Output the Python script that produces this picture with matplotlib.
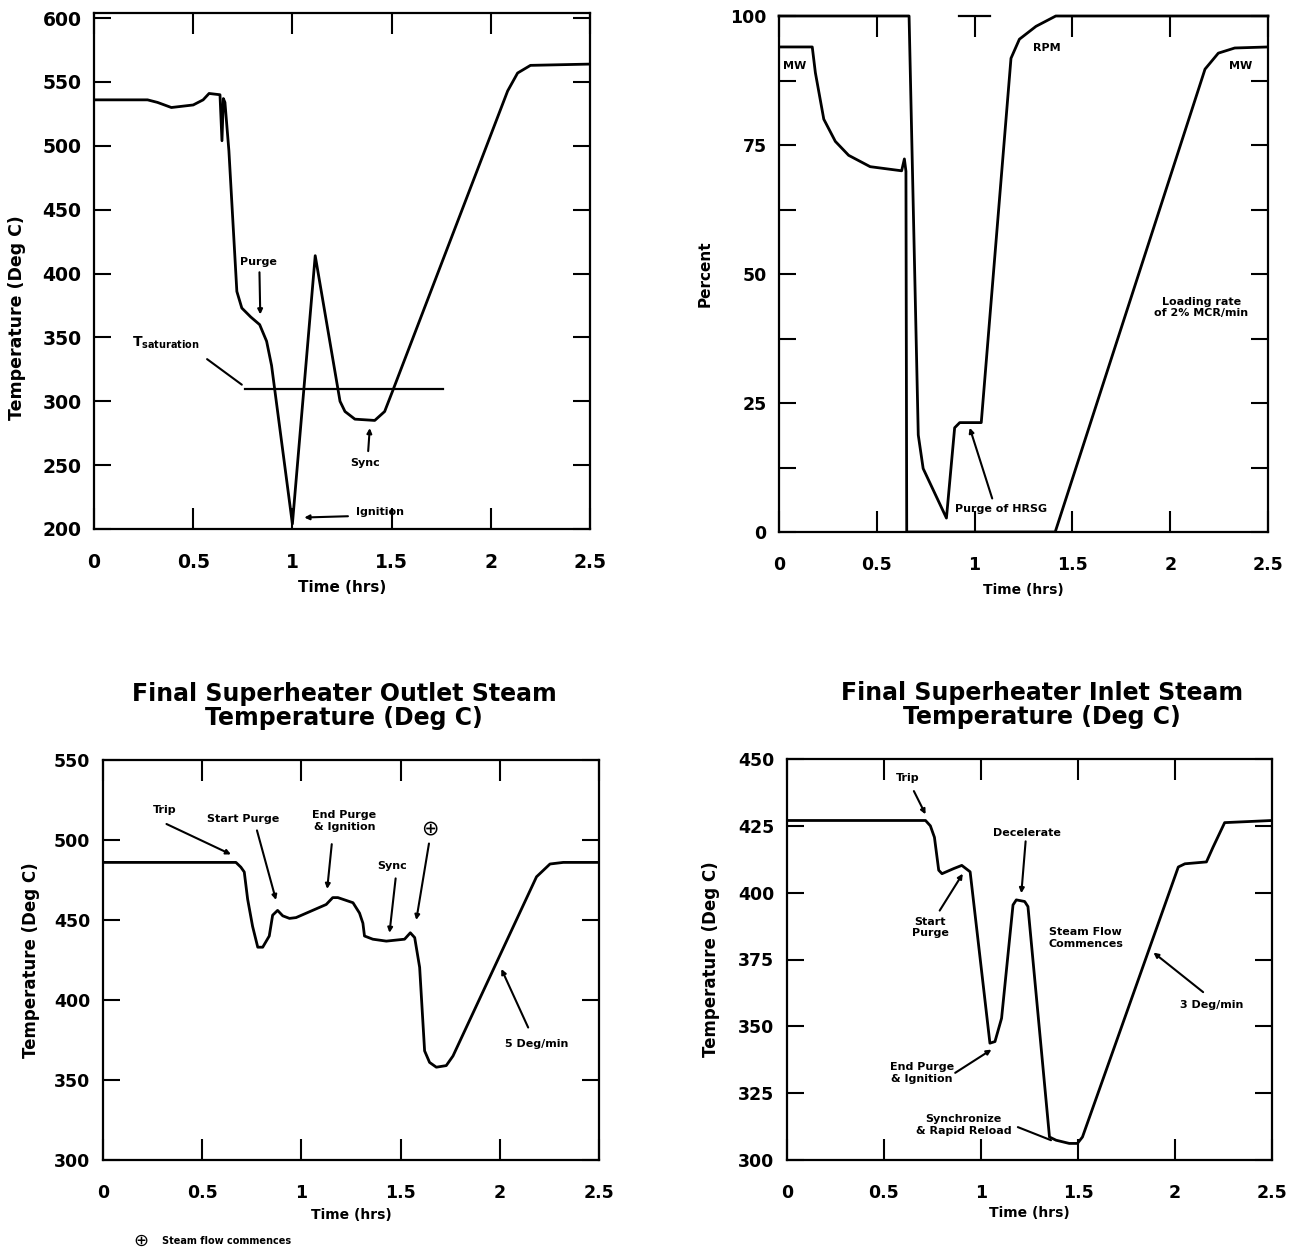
import matplotlib
matplotlib.use('Agg')
import matplotlib.pyplot as plt
from matplotlib.ticker import FixedLocator

W, H = 1298, 1253

# ---------------- data ----------------
# Top-left: temperature during trip / restart
tl_time = [0.00, 0.27, 0.32, 0.39, 0.50, 0.55, 0.58, 0.635, 0.645, 0.652, 0.66, 0.68,
           0.72, 0.745, 0.79, 0.835, 0.87, 0.895, 1.00, 1.115, 1.24, 1.265, 1.315,
           1.415, 1.465, 1.505, 2.085, 2.135, 2.20, 2.50]
tl_temp = [536, 536, 534, 530, 532, 536, 541, 540, 504, 537, 534, 496,
           386, 373, 366, 360, 347, 328, 204, 414, 300, 292, 286,
           285, 292, 308, 543, 557, 563, 564]
tl_sat_time = [0.76, 1.76]
tl_sat_temp = [310, 310]

# Top-right: MW and RPM (percent)
tr_mw_time = [0.00, 0.17, 0.186, 0.229, 0.288, 0.356, 0.466, 0.627, 0.641, 0.649,
              0.653, 1.412, 2.178, 2.246, 2.33, 2.50]
tr_mw_pct = [94, 94, 89, 80, 75.7, 73, 70.8, 70, 72.3, 69.9,
             0, 0, 89.7, 92.8, 93.8, 94]
tr_rpm_time = [0.00, 0.665, 0.712, 0.737, 0.856, 0.898, 0.924, 1.034, 1.186, 1.229,
               1.314, 1.415, 2.50]
tr_rpm_pct = [100, 100, 18.8, 12.3, 2.7, 20.2, 21.2, 21.2, 91.8, 95.5,
              98, 100, 100]

# Bottom-left: final superheater outlet steam temperature
bl_time = [0.00, 0.67, 0.695, 0.712, 0.729, 0.754, 0.78, 0.805, 0.838, 0.855, 0.88,
           0.906, 0.94, 0.973, 1.125, 1.158, 1.184, 1.26, 1.293, 1.31, 1.318, 1.36,
           1.428, 1.52, 1.549, 1.571, 1.596, 1.621, 1.646, 1.68, 1.73, 1.764,
           2.185, 2.253, 2.32, 2.50]
bl_temp = [486, 486, 483, 480, 463, 446, 433, 433, 440, 453, 456,
           452.6, 451, 451.5, 459.7, 464, 464, 460.8, 454.3, 448, 440, 438,
           436.8, 438, 442, 439, 420.4, 368.2, 361, 358, 359, 365,
           477, 485, 486, 486]

# Bottom-right: final superheater inlet steam temperature
br_time = [0.00, 0.714, 0.739, 0.76, 0.782, 0.799, 0.859, 0.901, 0.944, 1.046, 1.072,
           1.106, 1.165, 1.182, 1.225, 1.242, 1.353, 1.387, 1.455, 1.497, 1.523,
           2.017, 2.051, 2.162, 2.196, 2.256, 2.50]
br_temp = [427, 427, 425, 420.7, 408.4, 407.1, 409, 410.2, 407.8, 343.7, 344.3,
           353, 395.4, 397.3, 396.7, 394.8, 308.6, 307.4, 306.2, 306.2, 308.6,
           409.6, 410.8, 411.5, 417, 426.2, 427]

x_ticks = [0, 0.5, 1, 1.5, 2, 2.5]
x_ticklabels = ['0', '0.5', '1', '1.5', '2', '2.5']
tl_yticks = [200, 250, 300, 350, 400, 450, 500, 550, 600]
tr_yticks = [0, 25, 50, 75, 100]
tr_yminor = [12.5, 37.5, 62.5, 87.5]
bl_yticks = [300, 350, 400, 450, 500, 550]
br_yticks = [300, 325, 350, 375, 400, 425, 450]

# ---------------- style ----------------
plt.rcParams['font.family'] = ['DejaVu Sans']
LW = 2.0
NOTEFS = 8

fig = plt.figure(figsize=(W / 100, H / 100), dpi=100)


def px_axes(left, right, top, bottom):
    return fig.add_axes([left / W, 1 - bottom / H, (right - left) / W, (bottom - top) / H])


def style(ax, ylim, yticks, ylab, xlab_off, ylab_pos, tickfs=12.5, labfs=11, xlabfs=10):
    ax.set_xlim(0, 2.5)
    ax.set_ylim(*ylim)
    ax.set_xticks(x_ticks)
    ax.set_xticklabels(x_ticklabels, fontsize=tickfs, fontweight='bold')
    ax.set_yticks(yticks)
    ax.set_yticklabels([str(v) for v in yticks], fontsize=tickfs, fontweight='bold')
    ax.tick_params(axis='x', which='both', direction='in', top=True, bottom=True,
                   length=15, width=1.5, pad=17)
    ax.tick_params(axis='y', which='both', direction='in', left=True, right=True,
                   length=12, width=1.5, pad=9)
    for sp in ax.spines.values():
        sp.set_linewidth(1.6)
    ax.set_xlabel('Time (hrs)', fontsize=xlabfs, fontweight='bold')
    ax.set_ylabel(ylab, fontsize=labfs, fontweight='bold')
    ax.xaxis.set_label_coords(0.5, xlab_off)
    ax.yaxis.set_label_coords(*ylab_pos)


def arrow(ax, start, end, head=True):
    ax.annotate('', xy=end, xytext=start,
                arrowprops=dict(arrowstyle='-|>' if head else '-', color='black', lw=1.5,
                                mutation_scale=7, shrinkA=0, shrinkB=0))


def note(ax, txt, pos, ha='center', fs=NOTEFS):
    ax.text(pos[0], pos[1], txt, fontsize=fs, fontweight='bold', ha=ha, va='center',
            linespacing=1.2)


# ---------------- top-left ----------------
ax1 = px_axes(94, 590, 13, 529)
ax1.plot(tl_time, tl_temp, color='black', lw=LW, solid_joinstyle='round')
ax1.plot(tl_sat_time, tl_sat_temp, color='black', lw=1.6)
style(ax1, (200, 604), tl_yticks, 'Temperature (Deg C)', -0.099, (-0.137, 0.41),
      tickfs=13.5, labfs=12.5, xlabfs=11)
ax1.text(0.19, 346, r'$\mathbf{T}_{\mathbf{saturation}}$', fontsize=10, ha='left', va='center')
arrow(ax1, (0.57, 333), (0.745, 313), head=False)
note(ax1, 'Purge', (0.83, 409))
arrow(ax1, (0.834, 401), (0.838, 368))
note(ax1, 'Sync', (1.365, 252))
arrow(ax1, (1.382, 261), (1.39, 279))
note(ax1, 'Ignition', (1.44, 213))
arrow(ax1, (1.28, 210), (1.06, 209))

# ---------------- top-right ----------------
ax2 = px_axes(779, 1268, 16, 532)
ax2.plot(tr_mw_time, tr_mw_pct, color='black', lw=LW, solid_joinstyle='round')
ax2.plot(tr_rpm_time, tr_rpm_pct, color='black', lw=LW, solid_joinstyle='round', clip_on=False)
style(ax2, (0, 100), tr_yticks, 'Percent', -0.099, (-0.135, 0.5), labfs=11)
ax2.yaxis.set_minor_locator(FixedLocator(tr_yminor))
ax2.spines['top'].set_bounds(0.92, 1.08)
note(ax2, 'MW', (0.08, 90.4))
note(ax2, 'RPM', (1.37, 93.8))
note(ax2, 'MW', (2.36, 90.4))
note(ax2, 'Loading rate\nof 2% MCR/min', (2.16, 43.5))
note(ax2, 'Purge of HRSG', (0.9, 4.5), ha='left')
arrow(ax2, (1.09, 6.5), (0.975, 20.2))

# ---------------- bottom-left ----------------
ax3 = px_axes(103, 599, 760, 1160)
ax3.plot(bl_time, bl_temp, color='black', lw=LW, solid_joinstyle='round')
style(ax3, (300, 550), bl_yticks, 'Temperature (Deg C)', -0.12, (-0.127, 0.5), labfs=12)
ax3.set_title('Final Superheater Outlet Steam\nTemperature (Deg C)', fontsize=17,
              fontweight='bold', pad=25, linespacing=1.02, x=0.486)
note(ax3, 'Trip', (0.313, 519))
arrow(ax3, (0.32, 510), (0.645, 491))
note(ax3, 'Start Purge', (0.704, 513))
arrow(ax3, (0.776, 506), (0.872, 462.5))
note(ax3, 'End Purge\n& Ignition', (1.217, 512))
arrow(ax3, (1.153, 497.4), (1.13, 469.4))
ax3.text(1.646, 507, '\u2295', fontsize=15, ha='center', va='center')
arrow(ax3, (1.643, 497.8), (1.579, 450))
note(ax3, 'Sync', (1.456, 484))
arrow(ax3, (1.475, 476), (1.444, 442))
note(ax3, '5 Deg/min', (2.185, 372.7))
arrow(ax3, (2.143, 382.8), (2.008, 419.4))

fig.text(141 / W, 1 - 1241 / H, '\u2295', fontsize=13, ha='center', va='center')
fig.text(162 / W, 1 - 1241 / H, 'Steam flow commences', fontsize=7,
         fontweight='bold', ha='left', va='center')

# ---------------- bottom-right ----------------
ax4 = px_axes(787, 1272, 759, 1160)
ax4.plot(br_time, br_temp, color='black', lw=LW, solid_joinstyle='round')
style(ax4, (300, 450), br_yticks, 'Temperature (Deg C)', -0.115, (-0.138, 0.5), labfs=12)
ax4.set_title('Final Superheater Inlet Steam\nTemperature (Deg C)', fontsize=17,
              fontweight='bold', pad=25, linespacing=1.02, x=0.526)
note(ax4, 'Trip', (0.62, 443))
arrow(ax4, (0.654, 438), (0.714, 429.3))
note(ax4, 'Start\nPurge', (0.739, 387))
arrow(ax4, (0.787, 393.3), (0.906, 407.1))
note(ax4, 'Decelerate', (1.237, 422.2))
arrow(ax4, (1.23, 419.2), (1.208, 399.8))
note(ax4, 'Steam Flow\nCommences', (1.54, 383))
note(ax4, 'End Purge\n& Ignition', (0.697, 332.6))
arrow(ax4, (0.867, 332.6), (1.054, 341.3))
note(ax4, 'Synchronize\n& Rapid Reload', (0.91, 313.2))
arrow(ax4, (1.19, 312.3), (1.361, 307.4), head=False)
note(ax4, '3 Deg/min', (2.187, 357.9))
arrow(ax4, (2.145, 362.8), (1.889, 377.6))

fig.savefig('out.png', dpi=100)
